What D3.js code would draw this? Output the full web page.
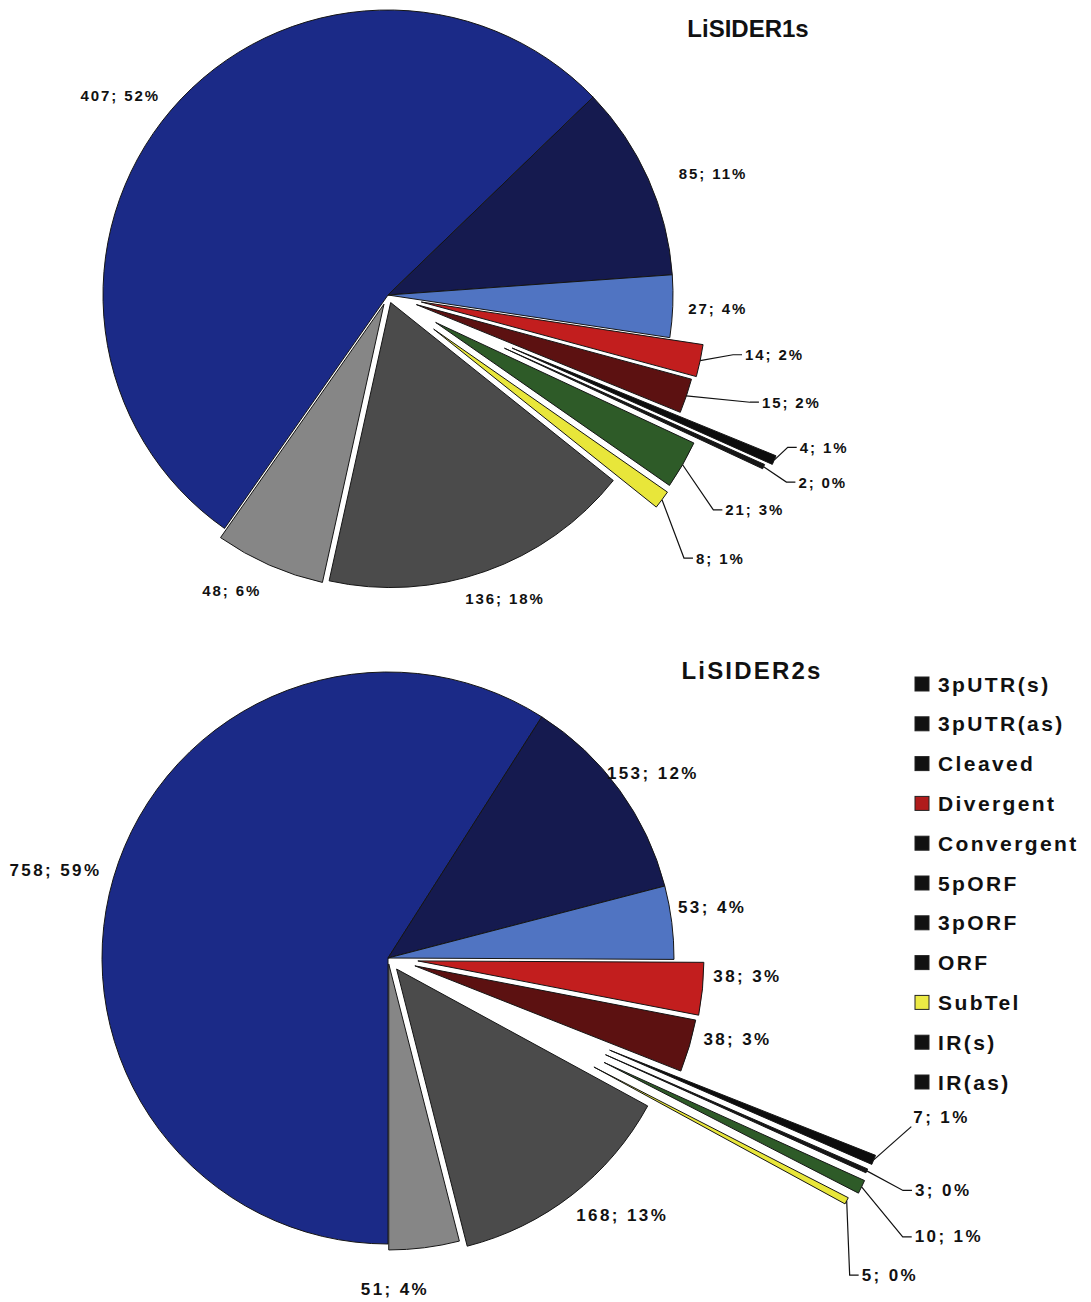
<!DOCTYPE html>
<html>
<head>
<meta charset="utf-8">
<script src="https://cdn.jsdelivr.net/npm/d3@7"></script>
<style>
  html, body { margin: 0; padding: 0; background: #fff; }
  svg { display: block; font-family: "Liberation Sans", Arial, sans-serif; }
</style>
</head>
<body>
<script>
// Genomic location classes of SIDER elements
const categories = ["3pUTR(s)", "3pUTR(as)", "Cleaved", "Divergent", "Convergent",
                    "5pORF", "3pORF", "ORF", "SubTel", "IR(s)", "IR(as)"];

// LiSIDER1s counts and their printed percentages
const counts1 = [407, 85, 27, 14, 15, 4, 2, 21, 8, 136, 48];
const pcts1   = ["52%", "11%", "4%", "2%", "2%", "1%", "0%", "3%", "1%", "18%", "6%"];

// LiSIDER2s counts and their printed percentages
const counts2 = [758, 153, 53, 38, 38, 7, 3, 10, 5, 168, 51];
const pcts2   = ["59%", "12%", "4%", "3%", "3%", "1%", "0%", "1%", "0%", "13%", "4%"];

// Slice fills, one per category
const sliceColors = ["#1b2a87", "#151a4f", "#5074c2", "#c21e1e", "#5c1111",
                     "#0d0d0d", "#161616", "#2e5b28", "#e8e63a", "#4b4b4b", "#868686"];
// Legend swatch fills
const legendColors = ["#111", "#111", "#111", "#b01c1c", "#111",
                      "#111", "#111", "#111", "#ecea45", "#111", "#111"];

// Layout of each pie: centre, radius, first-slice angle (deg, clockwise from 12 o'clock),
// per-slice explosion distance and label placement [angle deg, distance, leader style]
const layout1 = {
  title: "LiSIDER1s", titleX: 748, titleY: 28, titleSize: 24, titleSpacing: 0,
  cx: 388, cy: 295, r: 285, start: -145,
  explode: [0, 0, 0, 34, 30, 135, 128, 55, 57, 8, 10],
  fontSize: 15, spacing: 1.9,
  labels: [[-53.3, 334, null], [69.5, 347, null], [92.3, 330, null],
           [99.5, 362, "h"], [106.0, 389, "h"], [110.3, 439, "h"], [114.5, 451, "h"],
           [122.5, 400, "h"], [130.5, 405, "h"], [158.9, 325, null], [207.9, 334, null]]
};
const layout2 = {
  title: "LiSIDER2s", titleX: 752, titleY: 670, titleSize: 24, titleSpacing: 2.2,
  cx: 388, cy: 958, r: 286, start: -180,
  explode: [0, 0, 0, 30, 28, 240, 238, 240, 233, 14, 6],
  fontSize: 17, spacing: 2.4,
  labels: [[-75.2, 344, null], [55.1, 323, null], [81.2, 328, null],
           [93.0, 360, null], [103.2, 359, null], [106.9, 549, "d"], [113.8, 576, "h"],
           [117.9, 596, "h"], [123.8, 570, "h"], [137.7, 348, null], [178.8, 332, null]]
};

const W = 1091, H = 1302;
const svg = d3.select("body").append("svg").attr("width", W).attr("height", H);
const toRad = d => d * Math.PI / 180;
const polar = (a, d) => [d * Math.sin(a), -d * Math.cos(a)];

function drawPie(cfg, counts, pcts) {
  const a0 = toRad(cfg.start);
  const pie = d3.pie().sort(null).value(d => d).startAngle(a0).endAngle(a0 + 2 * Math.PI);
  const arcs = pie(counts);
  const arc = d3.arc().innerRadius(0).outerRadius(cfg.r);
  const mid = d => (d.startAngle + d.endAngle) / 2;

  const g = svg.append("g").attr("transform", `translate(${cfg.cx},${cfg.cy})`);

  g.append("g").selectAll("path").data(arcs).join("path")
    .attr("d", arc)
    .attr("fill", (d, i) => sliceColors[i])
    .attr("stroke", "#151515")
    .attr("stroke-width", 1)
    .attr("stroke-linejoin", "round")
    .attr("transform", (d, i) => {
      const [x, y] = polar(mid(d), cfg.explode[i]);
      return `translate(${x},${y})`;
    });

  const lab = g.append("g")
    .attr("font-weight", "bold")
    .attr("font-size", cfg.fontSize)
    .attr("letter-spacing", cfg.spacing)
    .attr("fill", "#111");

  arcs.forEach((d, i) => {
    const [ang, dist, style] = cfg.labels[i];
    const [ax, ay] = polar(toRad(ang), dist);
    const text = `${counts[i]}; ${pcts[i]}`;
    if (!style) {
      lab.append("text").attr("x", ax).attr("y", ay)
        .attr("text-anchor", "middle").attr("dominant-baseline", "central").text(text);
      return;
    }
    const [tx, ty] = polar(mid(d), cfg.r + cfg.explode[i]);
    const pts = style === "h"
      ? [[tx, ty], [ax - 12, ay], [ax - 3, ay]]
      : [[tx, ty], [ax - 2, ay + 9]];
    lab.append("path")
      .attr("d", d3.line()(pts))
      .attr("fill", "none").attr("stroke", "#111").attr("stroke-width", 1.2);
    lab.append("text").attr("x", ax).attr("y", ay)
      .attr("text-anchor", "start").attr("dominant-baseline", "central").text(text);
  });

  svg.append("text")
    .attr("x", cfg.titleX).attr("y", cfg.titleY)
    .attr("text-anchor", "middle").attr("dominant-baseline", "central")
    .attr("font-size", cfg.titleSize).attr("font-weight", "bold")
    .attr("letter-spacing", cfg.titleSpacing)
    .attr("fill", "#111")
    .text(cfg.title);
}

drawPie(layout1, counts1, pcts1);
drawPie(layout2, counts2, pcts2);

// Legend
const legend = svg.append("g").attr("transform", "translate(915,684)");
const row = legend.selectAll("g").data(categories).join("g")
  .attr("transform", (d, i) => `translate(0,${i * 39.8})`);
row.append("rect")
  .attr("x", 0).attr("y", -7).attr("width", 14).attr("height", 14)
  .attr("fill", (d, i) => legendColors[i])
  .attr("stroke", "#222").attr("stroke-width", 1);
row.append("text")
  .attr("x", 23).attr("y", 0)
  .attr("dominant-baseline", "central")
  .attr("font-size", 21).attr("font-weight", "bold")
  .attr("letter-spacing", 2.4)
  .attr("fill", "#111")
  .text(d => d);
</script>
</body>
</html>
